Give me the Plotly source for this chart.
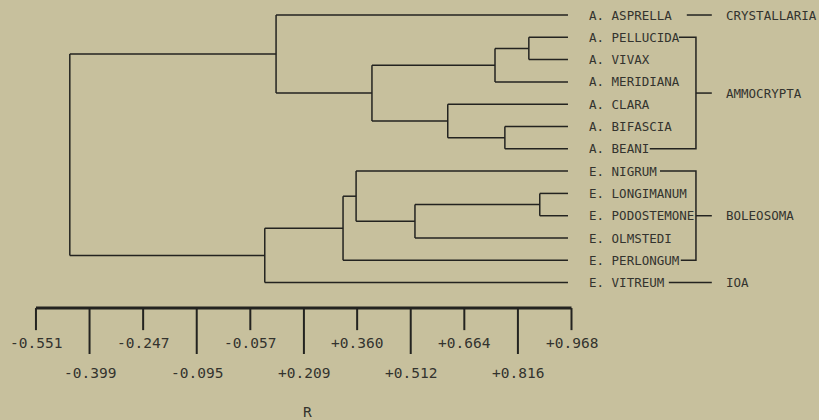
import plotly.graph_objects as go

# ---------------- data ----------------
leaves = ["A. ASPRELLA", "A. PELLUCIDA", "A. VIVAX", "A. MERIDIANA", "A. CLARA",
          "A. BIFASCIA", "A. BEANI", "E. NIGRUM", "E. LONGIMANUM", "E. PODOSTEMONE",
          "E. OLMSTEDI", "E. PERLONGUM", "E. VITREUM"]
leaf_r = 0.958  # right end of leaf branches

# merges: (name, child_a, child_b, correlation R of the join)
merges = [
    ("PV",   "A. PELLUCIDA", "A. VIVAX",       0.847),
    ("PVM",  "PV",           "A. MERIDIANA",   0.751),
    ("BB",   "A. BIFASCIA",  "A. BEANI",       0.779),
    ("CBB",  "A. CLARA",     "BB",             0.617),
    ("AMMO", "PVM",          "CBB",            0.402),
    ("TOP",  "A. ASPRELLA",  "AMMO",           0.130),
    ("LP",   "E. LONGIMANUM","E. PODOSTEMONE", 0.878),
    ("LPO",  "LP",           "E. OLMSTEDI",    0.524),
    ("NLPO", "E. NIGRUM",    "LPO",            0.357),
    ("BOL",  "NLPO",         "E. PERLONGUM",   0.320),
    ("BOLV", "BOL",          "E. VITREUM",     0.098),
    ("ROOT", "TOP",          "BOLV",          -0.455),
]

groups = ["CRYSTALLARIA", "AMMOCRYPTA", "BOLEOSOMA", "IOA"]
group_members = [[0], [1, 2, 3, 4, 5, 6], [7, 8, 9, 10, 11], [12]]

tick_values = [-0.551, -0.399, -0.247, -0.095, 0.057, 0.209, 0.360, 0.512, 0.664, 0.816, 0.968]
tick_labels = ["-0.551", "-0.399", "-0.247", "-0.095", "-0.057", "+0.209",
               "+0.360", "+0.512", "+0.664", "+0.816", "+0.968"]
axis_title = "R"

# ---------------- layout constants ----------------
BG = "#c7c09d"
INK = "#232320"
TXT = "#33332e"
FONT = "DejaVu Sans Mono"

label_x = 1.012
stub_start = {"A. ASPRELLA": 1.295, "A. PELLUCIDA": 1.273, "A. BEANI": 1.190,
              "E. NIGRUM": 1.219, "E. PERLONGUM": 1.278, "E. VITREUM": 1.244}
bracket_x = 1.321
group_line_end = 1.366
group_label_x = 1.400

axis_y = 13.14
short_tick_y = 14.13
long_tick_y = 15.2
short_lab_y = 14.71
long_lab_y = 16.05
title_y = 17.8

# ---------------- build dendrogram ----------------
pos = {name: float(i) for i, name in enumerate(leaves)}
height = {name: leaf_r for name in leaves}
xs, ys = [], []
for name, a, b, r in merges:
    ya, yb = pos[a], pos[b]
    xs += [r, height[a], None, r, height[b], None, r, r, None]
    ys += [ya, ya, None, yb, yb, None, ya, yb, None]
    pos[name] = (ya + yb) / 2
    height[name] = r

fig = go.Figure()
fig.add_trace(go.Scatter(x=xs, y=ys, mode="lines", line=dict(color=INK, width=1.5),
                         hoverinfo="skip", showlegend=False))

# group brackets
bx, by = [], []
for g, mem in zip(groups, group_members):
    first, last = leaves[mem[0]], leaves[mem[-1]]
    if len(mem) == 1:
        bx += [stub_start[first], group_line_end, None]
        by += [mem[0], mem[0], None]
    else:
        mid = (mem[0] + mem[-1]) / 2
        bx += [stub_start[first], bracket_x, bracket_x, stub_start[last], None,
               bracket_x, group_line_end, None]
        by += [mem[0], mem[0], mem[-1], mem[-1], None, mid, mid, None]
fig.add_trace(go.Scatter(x=bx, y=by, mode="lines", line=dict(color=INK, width=1.5),
                         hoverinfo="skip", showlegend=False))

annotations = []
for i, name in enumerate(leaves):
    annotations.append(dict(x=label_x, y=i, text=name, xanchor="left", yanchor="middle",
                            showarrow=False, font=dict(family=FONT, size=12.5, color=TXT)))
for g, mem in zip(groups, group_members):
    annotations.append(dict(x=group_label_x, y=(mem[0] + mem[-1]) / 2, text=g,
                            xanchor="left", yanchor="middle", showarrow=False,
                            font=dict(family=FONT, size=12.5, color=TXT)))

# custom axis
fig.add_trace(go.Scatter(x=[tick_values[0], tick_values[-1]], y=[axis_y, axis_y], mode="lines",
                         line=dict(color=INK, width=3), hoverinfo="skip", showlegend=False))
tx, ty = [], []
for k, v in enumerate(tick_values):
    bottom = short_tick_y if k % 2 == 0 else long_tick_y
    tx += [v, v, None]
    ty += [axis_y, bottom, None]
    annotations.append(dict(x=v, y=short_lab_y if k % 2 == 0 else long_lab_y,
                            text=tick_labels[k], xanchor="center", yanchor="middle",
                            showarrow=False, font=dict(family=FONT, size=14.5, color=TXT)))
fig.add_trace(go.Scatter(x=tx, y=ty, mode="lines", line=dict(color=INK, width=2),
                         hoverinfo="skip", showlegend=False))
annotations.append(dict(x=0.218, y=title_y, text=axis_title, xanchor="center", yanchor="middle",
                        showarrow=False, font=dict(family=FONT, size=14.5, color=TXT)))

fig.update_layout(
    width=819, height=420, margin=dict(l=0, r=0, t=0, b=0),
    paper_bgcolor=BG, plot_bgcolor=BG,
    xaxis=dict(range=[-0.653, 1.670], visible=False, fixedrange=True),
    yaxis=dict(range=[18.16, -0.673], visible=False, fixedrange=True),
    annotations=annotations, showlegend=False,
)

fig.write_html(
    "out.html",
    config={"displayModeBar": False},
    post_script="document.body.style.margin='0';document.body.style.overflow='hidden';"
                "document.body.style.background='" + BG + "';",
)
